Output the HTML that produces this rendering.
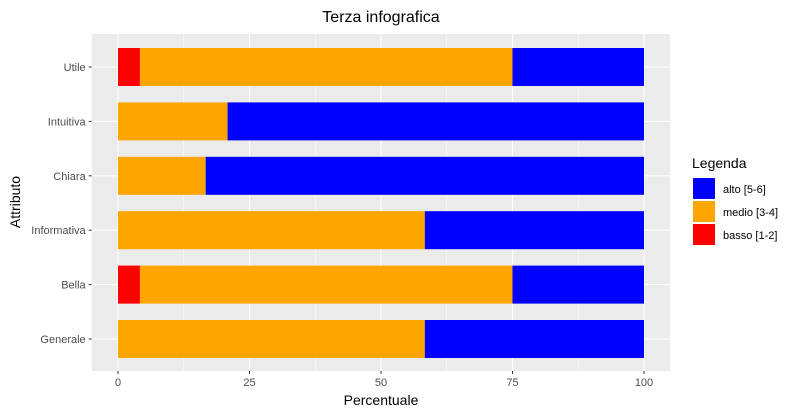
<!DOCTYPE html>
<html><head><meta charset="utf-8"><style>body{margin:0;background:#fff}svg{display:block;font-family:"Liberation Sans",sans-serif}</style></head>
<body>
<svg id="c" width="800" height="416"></svg>
<script>
const categories=["Utile","Intuitiva","Chiara","Informativa","Bella","Generale"];
const basso=[4.17,0,0,0,4.17,0];
const medio=[70.83,20.83,16.67,58.33,70.83,58.33];
const alto=[25,79.17,83.33,41.67,25,41.67];
const xTicks=[0,25,50,75,100];
const ns="http://www.w3.org/2000/svg";
const svg=document.getElementById('c');
function mk(t,a,p){const e=document.createElementNS(ns,t);for(const k in a)e.setAttribute(k,a[k]);(p||svg).appendChild(e);return e;}
const L=91.7,R=670,T=34,B=371;
const x=v=>118+v*5.26;
const y=i=>67+i*54.4;
const panel=mk('rect',{x:L,y:T,width:R-L,height:B-T,fill:'#ebebeb'});


[12.5,37.5,62.5,87.5].forEach(v=>mk('line',{x1:x(v),x2:x(v),y1:T,y2:B,stroke:'#fff','stroke-width':0.5}));
xTicks.forEach(v=>{
 const g=mk('line',{x1:x(v),x2:x(v),y1:T,y2:B,stroke:'#fff','stroke-width':1.1});
 
 
 mk('line',{x1:x(v),x2:x(v),y1:B,y2:B+3,stroke:'#333'});
 const t=mk('text',{x:x(v),y:B+15,'text-anchor':'middle','font-size':11,fill:'#4d4d4d'});t.textContent=v;
 
 
});
categories.forEach((c,i)=>{
 mk('line',{x1:L,x2:R,y1:y(i),y2:y(i),stroke:'#fff','stroke-width':1.1});
 mk('line',{x1:L-3,x2:L,y1:y(i),y2:y(i),stroke:'#333'});
 const t=mk('text',{x:L-6,y:y(i)+4,'text-anchor':'end','font-size':11,fill:'#4d4d4d'});t.textContent=c;
 
 
 const segs=[[basso[i],'#ff0000','bar-basso'],[medio[i],'#ffa500','bar-medio'],[alto[i],'#0000ff','bar-alto']];
 let s=0;
 segs.forEach(([v,col,n])=>{
  if(v>0){const r=mk('rect',{x:x(s),y:y(i)-19,width:x(s+v)-x(s),height:38,fill:col});
   
   }
  s+=v;
 });
});
function txt(s,a,n){const t=mk('text',a);t.textContent=s;return t;}
txt('Terza infografica',{x:381,y:22,'text-anchor':'middle','font-size':16,fill:'#000'},'chart-title');
txt('Percentuale',{x:381,y:405,'text-anchor':'middle','font-size':14,fill:'#000'},'x-axis-title');
txt('Attributo',{x:20,y:202,'text-anchor':'middle','font-size':14,fill:'#000',transform:'rotate(-90 20 202)'},'y-axis-title');
txt('Legenda',{x:692,y:168,'font-size':14,fill:'#000'},'legend-title');
[['alto [5-6]','#0000ff',178],['medio [3-4]','#ffa500',201],['basso [1-2]','#ff0000',224]].forEach(([l,c,yy])=>{
 const r=mk('rect',{x:693,y:yy,width:22,height:21,fill:c});
 
 
 txt(l,{x:723,y:yy+15,'font-size':11,fill:'#000'},'legend-entry');
});
</script>
</body></html>
